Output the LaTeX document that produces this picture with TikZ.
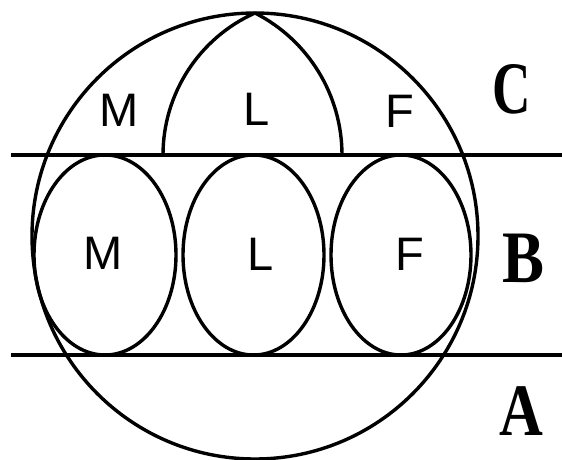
\documentclass[tikz,border=0pt]{standalone}
\usepackage{fontspec}
\setmainfont{Liberation Sans}
\newfontfamily\labfont{Liberation Serif}
\begin{document}
\begin{tikzpicture}[x=1pt,y=-1pt,line width=3.4pt,
  sect/.style={font=\fontsize{47}{47}\selectfont,inner sep=0pt},
  zone/.style={font=\labfont\bfseries\fontsize{74}{74}\selectfont,inner sep=0pt}]
\useasboundingbox (0,0) rectangle (562,460);
% outer circle
\draw (255,236) circle[radius=223];
% horizontal lines
\coordinate (u1) at (11,155); \coordinate (u2) at (562,155);
\coordinate (l1) at (11,355); \coordinate (l2) at (562,355);
\draw (u1) -- (u2);
\draw (l1) -- (l2);
% ellipses of zone B
\draw (105,255) ellipse[x radius=71,y radius=100];
\draw (253.5,255) ellipse[x radius=70.5,y radius=100];
\draw (401,255) ellipse[x radius=70,y radius=100];
% pointed arch of zone C
\draw (163,155) arc[start angle=180,end angle=245.9,radius=155.6];
\draw (342,155) arc[start angle=0,end angle=-63,radius=159.4];
% section letters
\node[sect] (mc) at (119,110) {M};
\node[sect] (lc) at (257,109) {L};
\node[sect] (fc) at (400,111) {F};
\node[sect] (mb) at (103,253) {M};
\node[sect] (lb) at (261,254) {L};
\node[sect] (fb) at (410,254) {F};
% zone labels
\node[zone] (zc) at (512,89) {\scalebox{0.72}[1]{C}};
\node[zone] (zb) at (523,258) {\scalebox{0.85}[1]{B}};
\node[zone] (za) at (521,411) {\scalebox{0.82}[1]{A}};
\end{tikzpicture}
\end{document}
